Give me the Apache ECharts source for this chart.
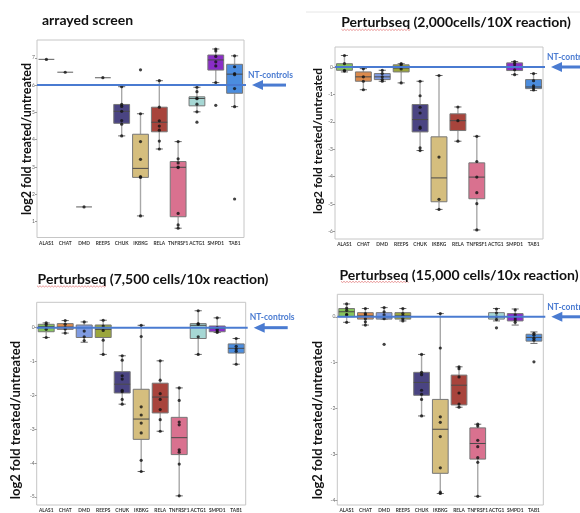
<!DOCTYPE html>
<html>
<head>
<meta charset="utf-8">
<script src="https://cdn.jsdelivr.net/npm/echarts@6/dist/echarts.min.js"></script>
<style>
  html, body { margin: 0; padding: 0; background: #ffffff; }
  #chart { width: 580px; height: 513px; }
</style>
</head>
<body>
<div id="chart"></div>
<script>
// Genes targeted in every screen
const genes = ['ALAS1', 'CHAT', 'DMD', 'REEPS', 'CHUK', 'IKBKG', 'RELA', 'TNFRSF1', 'ACTG1', 'SMPD1', 'TAB1'];
const geneColors = ['#86c35c', '#db8a4c', '#7f9be2', '#9ba63c', '#4a4482', '#d5be7e', '#a8443c', '#d9718f', '#a6d7d4', '#8a2dc6', '#4b8ddf'];

// Box statistics per gene: [min, q1, median, q3, max] of log2 fold treated/untreated
const arrayedStats = [
  [6.94, 6.94, 6.94, 6.94, 6.94],
  [6.47, 6.47, 6.47, 6.47, 6.47],
  [1.54, 1.54, 1.54, 1.54, 1.54],
  [6.27, 6.27, 6.27, 6.27, 6.27],
  [4.14, 4.60, 5.04, 5.29, 5.94],
  [1.21, 2.62, 2.95, 4.20, 4.95],
  [3.66, 4.29, 4.64, 5.19, 6.16],
  [0.76, 1.18, 2.99, 3.20, 3.93],
  [5.02, 5.24, 5.51, 5.57, 5.92],
  [6.09, 6.55, 6.92, 7.10, 7.32],
  [5.21, 5.70, 6.40, 6.76, 7.07]
];
const arrayedPoints = [
  [6.94], [6.47], [1.54], [6.27],
  [5.94, 5.29, 5.22, 5.04, 4.70, 4.57, 4.14],
  [6.56, 4.95, 3.93, 3.28, 2.65, 2.62, 1.21],
  [6.16, 5.19, 4.69, 4.50, 4.35, 3.95, 3.66],
  [3.93, 3.30, 3.15, 3.00, 2.98, 1.30, 0.88, 0.76],
  [5.92, 5.76, 5.52, 5.50, 5.30, 5.02, 4.64],
  [7.32, 7.25, 7.05, 6.85, 6.70, 6.09, 5.26],
  [7.07, 6.67, 6.42, 6.38, 5.87, 5.21, 1.83]
];

const ps2000Stats = [
  [-0.18, -0.12, 0.00, 0.12, 0.42],
  [-0.83, -0.52, -0.36, -0.18, -0.06],
  [-0.52, -0.46, -0.36, -0.24, -0.12],
  [-0.58, -0.18, -0.04, 0.08, 0.12],
  [-3.05, -2.37, -1.92, -1.37, -0.52],
  [-5.20, -4.92, -4.05, -2.55, -0.31],
  [-2.71, -2.32, -1.96, -1.71, -1.46],
  [-5.95, -4.81, -4.02, -3.50, -2.53],
  null,
  [-0.28, -0.13, -0.01, 0.15, 0.20],
  [-0.86, -0.79, -0.73, -0.46, -0.24]
];
const ps2000Points = [
  [0.42, 0.12, -0.12, -0.15],
  [-0.06, -0.36, -0.52, -0.83],
  [-0.12, -0.24, -0.36, -0.46, -0.52],
  [0.12, 0.08, -0.07, -0.58],
  [-0.52, -1.05, -1.47, -1.68, -2.19, -2.24, -2.95, -3.05],
  [-0.31, -3.29, -4.83, -5.20],
  [-1.46, -1.96, -2.71],
  [-2.53, -3.45, -4.02, -4.59, -4.99, -5.95],
  [],
  [0.20, 0.12, 0.02, -0.10, -0.28],
  [-0.24, -0.50, -0.69, -0.77, -0.84]
];

const ps7500Stats = [
  [-0.29, -0.12, 0.03, 0.10, 0.14],
  [-0.16, -0.05, 0.02, 0.12, 0.21],
  [-0.43, -0.29, 0.00, 0.08, 0.17],
  [-0.79, -0.29, -0.05, 0.08, 0.22],
  [-2.26, -1.93, -1.67, -1.30, -0.83],
  [-4.25, -3.30, -2.70, -1.82, 0.07],
  [-3.06, -2.52, -2.05, -1.64, -0.98],
  [-4.97, -3.75, -3.25, -2.65, -1.78],
  [-0.79, -0.32, 0.07, 0.12, 0.50],
  [-0.14, -0.12, -0.02, 0.05, 0.29],
  [-1.08, -0.75, -0.61, -0.48, -0.32]
];
const ps7500Points = [
  [0.14, 0.09, 0.00, -0.05, -0.29],
  [0.21, 0.10, 0.00, -0.04, -0.16],
  [0.17, -0.10, -0.27, -0.38],
  [0.22, 0.05, -0.08, -0.37, -0.79],
  [-0.83, -0.96, -1.42, -1.52, -1.85, -1.89, -2.12, -2.26],
  [0.07, -0.26, -2.34, -2.58, -2.82, -3.11, -3.92, -4.25],
  [-0.98, -1.55, -1.95, -2.12, -2.42, -2.72, -3.06],
  [-1.78, -2.15, -2.79, -2.87, -3.61, -3.68, -4.03, -4.97],
  [0.50, 0.12, 0.10, -0.27, -0.79],
  [0.29, 0.00, -0.05, -0.10, -0.14],
  [-0.32, -0.55, -0.63, -0.70, -1.08]
];

const ps15000Stats = [
  [-0.12, 0.00, 0.11, 0.18, 0.28],
  [-0.18, -0.05, 0.02, 0.09, 0.18],
  [-0.05, -0.05, 0.00, 0.09, 0.20],
  [-0.09, -0.05, 0.02, 0.09, 0.18],
  [-2.16, -1.71, -1.43, -1.21, -0.82],
  [-3.85, -3.41, -2.45, -1.80, 0.07],
  [-1.97, -1.92, -1.49, -1.27, -1.09],
  [-3.91, -3.10, -2.76, -2.42, -2.34],
  [-0.09, -0.05, 0.00, 0.09, 0.18],
  [-0.18, -0.09, 0.00, 0.07, 0.17],
  [-0.58, -0.53, -0.45, -0.38, -0.33]
];
const ps15000Points = [
  [0.28, 0.19, 0.14, 0.05, 0.04, -0.12],
  [0.18, 0.07, 0.04, -0.04, -0.11, -0.18],
  [0.20, 0.11, 0.04, -0.04, -0.60],
  [0.18, 0.07, 0.02, -0.04, -0.09],
  [-0.82, -1.21, -1.26, -1.60, -1.69, -1.80, -2.16],
  [0.07, -0.68, -2.18, -2.30, -2.61, -3.29, -3.82, -3.85],
  [-1.09, -1.13, -1.31, -1.66, -1.90, -1.97],
  [-2.34, -2.38, -2.69, -2.83, -3.07, -3.17, -3.91],
  [0.17, 0.08, 0.00, -0.06, -0.24],
  [0.15, 0.04, -0.02, -0.07, -0.12],
  [-0.36, -0.40, -0.47, -0.51, -0.98]
];

// Non-targeting control reference level in each screen
const ntControlLevels = [6, 0, 0, 0];

// Y tick labels shown on each panel
const arrayedTicks = [1, 2, 3, 4, 5, 6, 7];
const ps2000Ticks = [0, -1, -2, -3, -4, -5, -6];
const ps7500Ticks = [0, -1, -2, -3, -4, -5];
const ps15000Ticks = [0, -1, -2, -3, -4];

const titles = [
  'arrayed screen',
  'Perturbseq (2,000cells/10X reaction)',
  'Perturbseq (7,500 cells/10x reaction)',
  'Perturbseq (15,000 cells/10x reaction)'
];
const yName = 'log2 fold treated/untreated';
const ntLabel = ['NT-controls', 'NT-controls', 'NT-controls', 'NT-controls'];

const FONT = 'Lato, "Open Sans", sans-serif';
const NT_BLUE = '#4a7bd1';

// Panel geometry and per-panel axis extents
const panels = [
  { stats: arrayedStats, points: arrayedPoints, ticks: arrayedTicks, min: 0.42, max: 7.65,
    grid: { left: 37, top: 40, width: 207, height: 197.5 },
    title: { x: 42, y: 20, align: 'left', size: 14 }, yname: { x: 27, y: 139, size: 12.5 } },
  { stats: ps2000Stats, points: ps2000Points, ticks: ps2000Ticks, min: -6.28, max: 0.73,
    grid: { left: 335, top: 47, width: 208, height: 192 },
    title: { x: 456, y: 22, align: 'center', size: 14 }, yname: { x: 318, y: 141, size: 12 } },
  { stats: ps7500Stats, points: ps7500Points, ticks: ps7500Ticks, min: -5.24, max: 0.75,
    grid: { left: 36.7, top: 302.3, width: 209, height: 208 },
    title: { x: 153, y: 279, align: 'center', size: 14 }, yname: { x: 16, y: 420, size: 13 } },
  { stats: ps15000Stats, points: ps15000Points, ticks: ps15000Ticks, min: -4.10, max: 0.49,
    grid: { left: 337.3, top: 294.3, width: 206, height: 210.7 },
    title: { x: 459, y: 275, align: 'center', size: 14 }, yname: { x: 317.5, y: 420, size: 13 } }
];

// Box + whiskers drawn from the axis scales
function renderBox(params, api) {
  const i = api.value(0);
  const pMin = api.coord([i, api.value(1)]);
  const pQ1 = api.coord([i, api.value(2)]);
  const pMed = api.coord([i, api.value(3)]);
  const pQ3 = api.coord([i, api.value(4)]);
  const pMax = api.coord([i, api.value(5)]);
  const band = api.size([1, 0])[0];
  const w = band * 0.84;
  const cap = w * 0.45;
  const x = pMed[0];
  const whisker = { stroke: '#a8a8a8', lineWidth: 1.4 };
  const capStyle = { stroke: '#6a6a6a', lineWidth: 1 };
  const flat = Math.abs(pQ1[1] - pQ3[1]) < 0.5;
  const children = [
    { type: 'line', shape: { x1: x, y1: pMax[1], x2: x, y2: pQ3[1] }, style: whisker },
    { type: 'line', shape: { x1: x, y1: pQ1[1], x2: x, y2: pMin[1] }, style: whisker }
  ];
  if (!flat) {
    children.push(
      { type: 'line', shape: { x1: x - cap / 2, y1: pMax[1], x2: x + cap / 2, y2: pMax[1] }, style: capStyle },
      { type: 'line', shape: { x1: x - cap / 2, y1: pMin[1], x2: x + cap / 2, y2: pMin[1] }, style: capStyle },
      { type: 'rect', shape: { x: x - w / 2, y: pQ3[1], width: w, height: pQ1[1] - pQ3[1] },
        style: { fill: geneColors[i], stroke: '#777777', lineWidth: 1 } },
      { type: 'line', shape: { x1: x - w / 2, y1: pMed[1], x2: x + w / 2, y2: pMed[1] },
        style: { stroke: '#4a4a4a', lineWidth: 1 } }
    );
  } else {
    children.push({ type: 'line', shape: { x1: x - w / 2, y1: pMed[1], x2: x + w / 2, y2: pMed[1] },
      style: { stroke: '#777777', lineWidth: 1.2 } });
  }
  return { type: 'group', children };
}

// Reference line at the NT-control level, with arrow and label beside the plot
function makeNtRenderer(label) {
  return function (params, api) {
    const cs = params.coordSys;
    const y = api.coord([0, api.value(1)])[1];
    const right = cs.x + cs.width;
    const tip = right + 8;
    return {
      type: 'group',
      children: [
        { type: 'line', shape: { x1: cs.x, y1: y, x2: right + 2, y2: y },
          style: { stroke: NT_BLUE, lineWidth: 2 } },
        { type: 'line', shape: { x1: tip + 8, y1: y, x2: tip + 34, y2: y },
          style: { stroke: NT_BLUE, lineWidth: 3 } },
        { type: 'polygon', shape: { points: [[tip, y], [tip + 11, y - 5], [tip + 11, y + 5]] },
          style: { fill: NT_BLUE } },
        { type: 'text', x: right + 4, y: y - 10,
          style: { text: label, fill: NT_BLUE, font: 'bold 8.5px ' + FONT,
                   textAlign: 'left', textVerticalAlign: 'middle' } }
      ]
    };
  };
}

const option = {
  backgroundColor: '#ffffff',
  animation: false,
  grid: [], xAxis: [], yAxis: [], series: [], title: [], graphic: []
};

panels.forEach((p, k) => {
  option.grid.push(Object.assign({ show: true, borderColor: '#c6c6c6', borderWidth: 1, backgroundColor: 'transparent' }, p.grid));
  option.xAxis.push({
    type: 'category', gridIndex: k, data: genes, boundaryGap: true,
    axisLine: { show: false }, axisTick: { show: false },
    axisLabel: { interval: 0, fontSize: 4.8, fontWeight: 'bold', color: '#333', margin: 3, fontFamily: FONT }
  });
  option.yAxis.push({
    type: 'value', gridIndex: k, min: p.min, max: p.max,
    splitLine: { show: false }, axisLine: { show: false },
    axisTick: { show: true, length: 2, lineStyle: { color: '#999' }, customValues: p.ticks },
    axisLabel: { customValues: p.ticks, fontSize: 5, color: '#666', margin: 2, fontFamily: FONT }
  });
  option.title.push({
    text: titles[k], left: p.title.x, top: p.title.y - p.title.size * 0.6 + 2,
    textAlign: p.title.align, padding: 0,
    textStyle: { fontFamily: FONT, fontWeight: 'bold', fontSize: p.title.size, color: '#111' }
  });
  option.graphic.push({
    type: 'text', x: p.yname.x, y: p.yname.y, rotation: Math.PI / 2,
    style: { text: yName, font: 'bold ' + p.yname.size + 'px ' + FONT, fill: '#111',
             textAlign: 'center', textVerticalAlign: 'middle' }
  });

  const boxData = p.stats.map((s, i) => (s ? [i].concat(s) : null)).filter(Boolean);
  option.series.push({
    type: 'custom', xAxisIndex: k, yAxisIndex: k, renderItem: renderBox,
    encode: { x: 0, y: [1, 2, 3, 4, 5] }, data: boxData, z: 2
  });
  const pts = [];
  p.points.forEach((arr, i) => arr.forEach(v => pts.push([i, v])));
  option.series.push({
    type: 'scatter', xAxisIndex: k, yAxisIndex: k, data: pts,
    symbol: 'circle', symbolSize: 3.2, itemStyle: { color: '#111' }, z: 4, silent: true
  });
  option.series.push({
    type: 'custom', xAxisIndex: k, yAxisIndex: k, renderItem: makeNtRenderer(ntLabel[k]),
    encode: { x: 0, y: 1 }, data: [[0, ntControlLevels[k]]], clip: false, z: 5
  });
});

// Faint rule above the upper-right panel
option.graphic.push({ type: 'line', shape: { x1: 306, y1: 12, x2: 580, y2: 12 },
  style: { stroke: '#e6e6e6', lineWidth: 1 } });

// Spell-check squiggles beneath "Perturbseq"
[[341.5, 411.5, 29.5], [37, 106, 286], [341, 409, 281.5]].forEach(([x0, x1, y0]) => {
  const pts = [];
  for (let x = x0, j = 0; x <= x1; x += 1.5, j++) pts.push([x, y0 + (j % 2 ? 1 : -0.2)]);
  option.graphic.push({ type: 'polyline', shape: { points: pts }, style: { stroke: '#e07070', lineWidth: 0.7 } });
});

const chart = echarts.init(document.getElementById('chart'), null, { renderer: 'canvas' });
chart.setOption(option);
</script>
</body>
</html>
